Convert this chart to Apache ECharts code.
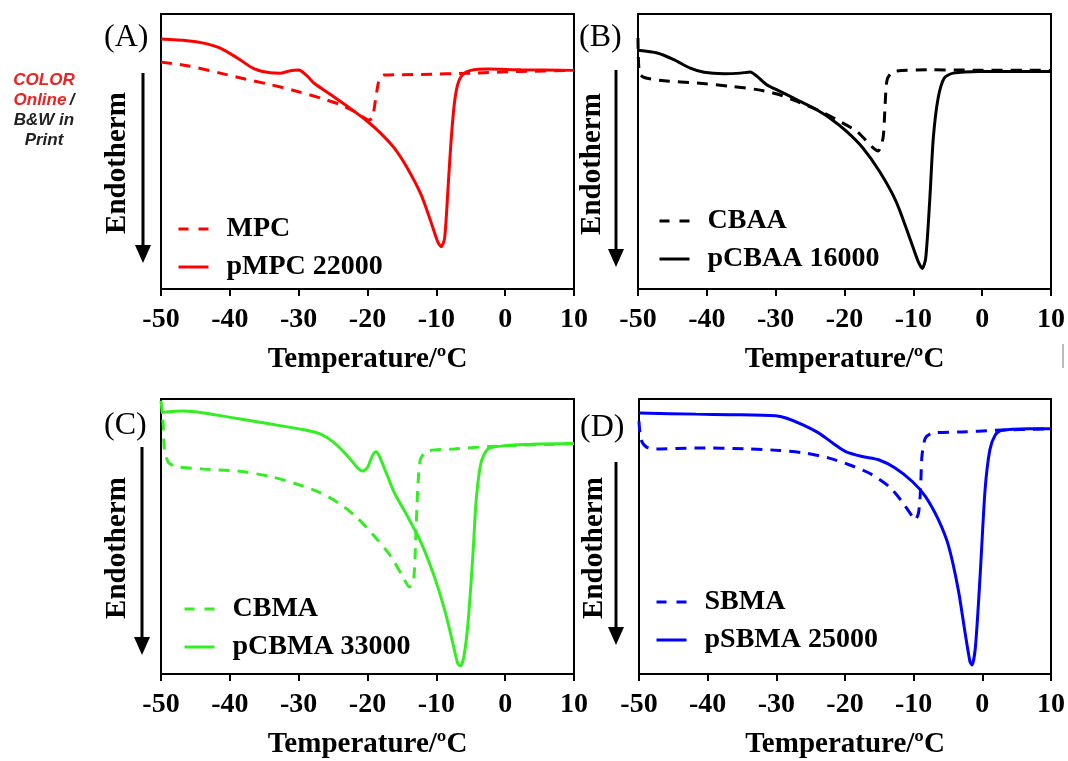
<!DOCTYPE html>
<html>
<head>
<meta charset="utf-8">
<script src="https://cdn.jsdelivr.net/npm/echarts@6/dist/echarts.min.js"></script>
<style>
  html, body { margin: 0; padding: 0; background: #fff; }
  #chart { width: 1068px; height: 761px; }
</style>
</head>
<body>
<div id="chart"></div>
<script>
// temperature (°C) vs. heat flow (a.u., 0 = bottom of frame, 100 = top)
var mpc = [[-50, 82.5], [-46.2, 81.2], [-41.4, 78.5], [-38.4, 76.7], [-34.6, 74.6], [-30.7, 72.2], [-26.8, 69.4], [-23.9, 67.0], [-21.5, 64.0], [-19.8, 61.5], [-19.3, 62.1], [-18.8, 69.4], [-18.3, 76.1], [-17.6, 77.8], [-12.2, 78.0], [-5.0, 78.5], [2.3, 79.1], [10, 79.5]];
var pmpc = [[-50, 90.9], [-46.2, 90.3], [-43.8, 89.4], [-41.4, 87.6], [-38.9, 84.0], [-36.5, 80.1], [-34.1, 78.6], [-32.6, 78.5], [-31.2, 79.4], [-30.0, 79.6], [-28.7, 77.3], [-27.8, 74.9], [-25.3, 70.6], [-22.9, 66.4], [-20.0, 60.9], [-18.1, 56.7], [-16.1, 51.2], [-14.2, 43.9], [-12.2, 34.2], [-10.8, 24.5], [-9.8, 17.2], [-9.3, 15.4], [-8.8, 18.4], [-8.3, 36.7], [-7.9, 52.4], [-7.4, 67.0], [-6.9, 74.3], [-6.2, 77.9], [-5.0, 79.5], [-2.5, 80.0], [2.3, 79.7], [10, 79.5]];

var cbaa = [[-50, 91.3], [-49.8, 78.5], [-49.1, 76.9], [-46.2, 75.7], [-41.4, 74.9], [-36.6, 73.7], [-32.7, 72.5], [-29.8, 70.9], [-26.9, 68.2], [-24.0, 65.2], [-21.1, 61.5], [-18.2, 57.3], [-15.8, 51.2], [-15.1, 50.2], [-14.4, 54.9], [-14.1, 67.0], [-13.8, 76.1], [-12.9, 79.1], [-7.6, 79.7], [-2.8, 79.6], [10, 79.5]];
var pcbaa = [[-50, 86.8], [-47.2, 85.8], [-44.8, 83.4], [-42.4, 80.3], [-40.4, 78.8], [-37.5, 78.3], [-35.1, 78.5], [-33.7, 78.9], [-32.7, 77.3], [-31.3, 74.3], [-29.3, 71.8], [-26.9, 68.8], [-24.5, 65.8], [-22.1, 62.1], [-19.7, 57.3], [-17.3, 51.2], [-14.9, 42.7], [-12.5, 31.8], [-10.5, 18.4], [-9.3, 10.0], [-8.7, 7.5], [-8.2, 11.2], [-7.6, 33.0], [-7.1, 54.9], [-6.4, 69.4], [-5.5, 76.7], [-4.2, 78.5], [-0.4, 79.1], [10, 79.1]];

var cbma = [[-50, 99.4], [-49.7, 91.5], [-49.5, 81.8], [-48.9, 76.9], [-47.7, 75.4], [-43.8, 74.5], [-38.9, 73.8], [-34.1, 71.8], [-30.2, 69.0], [-26.8, 65.9], [-23.9, 61.7], [-21.5, 56.8], [-19.0, 50.1], [-16.6, 42.8], [-14.9, 35.5], [-13.9, 31.6], [-13.3, 34.3], [-13.0, 48.9], [-12.7, 67.2], [-12.3, 78.1], [-11.3, 81.1], [-7.4, 81.8], [-2.5, 82.7], [10, 83.8]];
var pcbma = [[-50, 95.1], [-46.7, 95.6], [-43.8, 94.9], [-38.9, 92.9], [-34.1, 90.9], [-29.2, 88.8], [-26.8, 87.2], [-24.9, 84.2], [-22.9, 79.3], [-21.5, 75.1], [-20.7, 73.8], [-20.0, 75.1], [-19.3, 79.3], [-18.8, 80.8], [-18.3, 79.3], [-17.1, 72.0], [-16.1, 65.9], [-14.2, 57.4], [-12.2, 47.7], [-10.3, 35.5], [-8.8, 23.4], [-7.6, 11.2], [-6.9, 3.9], [-6.5, 2.9], [-6.0, 6.3], [-5.4, 18.5], [-4.7, 42.8], [-4.2, 63.5], [-3.5, 76.9], [-2.5, 81.8], [-0.1, 83.0], [4.8, 83.6], [10, 83.8]];

var sbma = [[-50, 91.9], [-49.7, 85.2], [-48.9, 82.5], [-47.5, 81.8], [-41.7, 82.2], [-34.4, 81.9], [-29.6, 81.3], [-25.7, 80.3], [-22.3, 78.5], [-19.4, 76.1], [-16.5, 73.1], [-13.6, 68.2], [-11.7, 62.7], [-10.2, 57.3], [-9.8, 56.1], [-9.3, 58.5], [-9.0, 67.0], [-8.8, 79.1], [-8.3, 85.8], [-7.3, 87.6], [-3.0, 88.0], [1.9, 88.6], [10, 89.2]];
var psbma = [[-50, 94.9], [-41.7, 94.5], [-36.8, 94.3], [-30.1, 93.9], [-28.6, 93.1], [-26.2, 90.7], [-23.8, 87.6], [-21.8, 84.0], [-19.9, 80.9], [-17.5, 79.1], [-15.1, 77.9], [-12.7, 74.9], [-10.2, 70.0], [-8.3, 64.6], [-6.4, 56.1], [-4.9, 46.4], [-3.5, 30.6], [-2.5, 14.8], [-1.8, 4.5], [-1.5, 3.3], [-1.0, 10.0], [-0.3, 36.7], [0.4, 67.0], [1.1, 81.6], [1.9, 87.0], [2.8, 88.6], [6.7, 89.2], [10, 89.2]];

var panelLabels = ['(A)', '(B)', '(C)', '(D)'];
var monomerNames = ['MPC', 'CBAA', 'CBMA', 'SBMA'];
var polymerNames = ['pMPC 22000', 'pCBAA 16000', 'pCBMA 33000', 'pSBMA 25000'];
var monomerData = [mpc, cbaa, cbma, sbma];
var polymerData = [pmpc, pcbaa, pcbma, psbma];
var colors = ['#ff0000', '#000000', '#33ee22', '#0000ff'];
var xTitle = 'Temperature/ºC';
var yTitle = 'Endotherm';

var serif = '"Liberation Serif", "Times New Roman", serif';
var sans = '"Liberation Sans", Arial, sans-serif';

var grids = [
    {left: 161, top: 14, width: 413, height: 275},
    {left: 638, top: 14, width: 414, height: 275},
    {left: 161, top: 399, width: 413, height: 275},
    {left: 639, top: 399, width: 414, height: 275}
];
var legendPos = [
    {left: 177, top: 215},
    {left: 658, top: 207},
    {left: 183, top: 595},
    {left: 655, top: 588}
];
// label / axis-title / arrow placement for each panel
var deco = [
    {lx: 104, ly: 22, tx: 118, ty: 163, ax: 143, ay1: 73, ay2: 263},
    {lx: 579, ly: 22, tx: 593, ty: 164, ax: 616, ay1: 70, ay2: 267},
    {lx: 104, ly: 410, tx: 118, ty: 548, ax: 142, ay1: 447, ay2: 655},
    {lx: 580, ly: 412, tx: 595, ty: 548, ax: 616, ay1: 462, ay2: 645}
];

var myChart = echarts.init(document.getElementById('chart'));

var xAxes = [], yAxes = [], series = [], legends = [], graphics = [];

for (var i = 0; i < 4; i++) {
    xAxes.push({
        gridIndex: i,
        type: 'value',
        min: -50,
        max: 10,
        interval: 10,
        name: xTitle,
        nameLocation: 'middle',
        nameGap: 56,
        nameTextStyle: {color: '#000', fontFamily: serif, fontWeight: 'bold', fontSize: 29},
        axisLine: {show: true, lineStyle: {color: '#000', width: 2}},
        axisTick: {show: true, inside: false, length: 7, lineStyle: {color: '#000', width: 2}},
        axisLabel: {color: '#000', fontFamily: serif, fontWeight: 'bold', fontSize: 28, margin: 17},
        splitLine: {show: false}
    });
    yAxes.push({
        gridIndex: i,
        type: 'value',
        min: 0,
        max: 100,
        show: false
    });
    series.push({
        name: monomerNames[i],
        type: 'line',
        xAxisIndex: i,
        yAxisIndex: i,
        data: monomerData[i],
        symbol: 'none',
        smooth: 0.25,
        color: colors[i],
        lineStyle: {color: colors[i], width: 3, type: [11, 8]}
    });
    series.push({
        name: polymerNames[i],
        type: 'line',
        xAxisIndex: i,
        yAxisIndex: i,
        data: polymerData[i],
        symbol: 'none',
        smooth: 0.25,
        color: colors[i],
        lineStyle: {color: colors[i], width: 3}
    });
    legends.push({
        data: [
            {name: monomerNames[i], itemStyle: {opacity: 0}, lineStyle: {color: colors[i], width: 3, type: [10, 10]}},
            {name: polymerNames[i], itemStyle: {opacity: 0}, lineStyle: {color: colors[i], width: 3, type: 'solid'}}
        ],
        orient: 'vertical',
        left: legendPos[i].left,
        top: legendPos[i].top,
        padding: 0,
        itemWidth: 30,
        itemHeight: 20,
        itemGap: 10,
        selectedMode: false,
        textStyle: {color: '#000', fontFamily: serif, fontWeight: 'bold', fontSize: 28, padding: [0, 0, 0, 13]}
    });

    var d = deco[i];
    graphics.push({
        type: 'text', left: d.lx, top: d.ly,
        style: {text: panelLabels[i], fill: '#000', font: 'normal 32px ' + serif}
    });
    graphics.push({
        type: 'text', x: d.tx, y: d.ty, rotation: Math.PI / 2,
        style: {text: yTitle, fill: '#000', font: 'bold 29px ' + serif, align: 'center', verticalAlign: 'middle'}
    });
    graphics.push({
        type: 'line',
        shape: {x1: d.ax, y1: d.ay1, x2: d.ax, y2: d.ay2 - 12},
        style: {stroke: '#000', lineWidth: 3}
    });
    graphics.push({
        type: 'polygon',
        shape: {points: [[d.ax - 8, d.ay2 - 18], [d.ax + 8, d.ay2 - 18], [d.ax, d.ay2]]},
        style: {fill: '#000'}
    });
}

graphics.push({
    type: 'text', x: 44, y: 70,
    style: {
        text: '{r|COLOR}\n{r|Online} {k|/}\n{k|B&W in}\n{k|Print}',
        align: 'center',
        rich: {
            r: {fill: '#ee2222', fontFamily: sans, fontWeight: 'bold', fontStyle: 'italic', fontSize: 17, lineHeight: 20},
            k: {fill: '#222', fontFamily: sans, fontWeight: 'bold', fontStyle: 'italic', fontSize: 17, lineHeight: 20}
        }
    }
});
graphics.push({
    type: 'rect', shape: {x: 1062, y: 344, width: 2, height: 24},
    style: {fill: '#bbb'}
});

var option = {
    backgroundColor: '#fff',
    animation: false,
    grid: grids.map(function (g) {
        return {left: g.left, top: g.top, width: g.width, height: g.height, show: true, borderColor: '#000', borderWidth: 2, containLabel: false};
    }),
    xAxis: xAxes,
    yAxis: yAxes,
    legend: legends,
    series: series,
    graphic: graphics
};

myChart.setOption(option);
</script>
</body>
</html>
